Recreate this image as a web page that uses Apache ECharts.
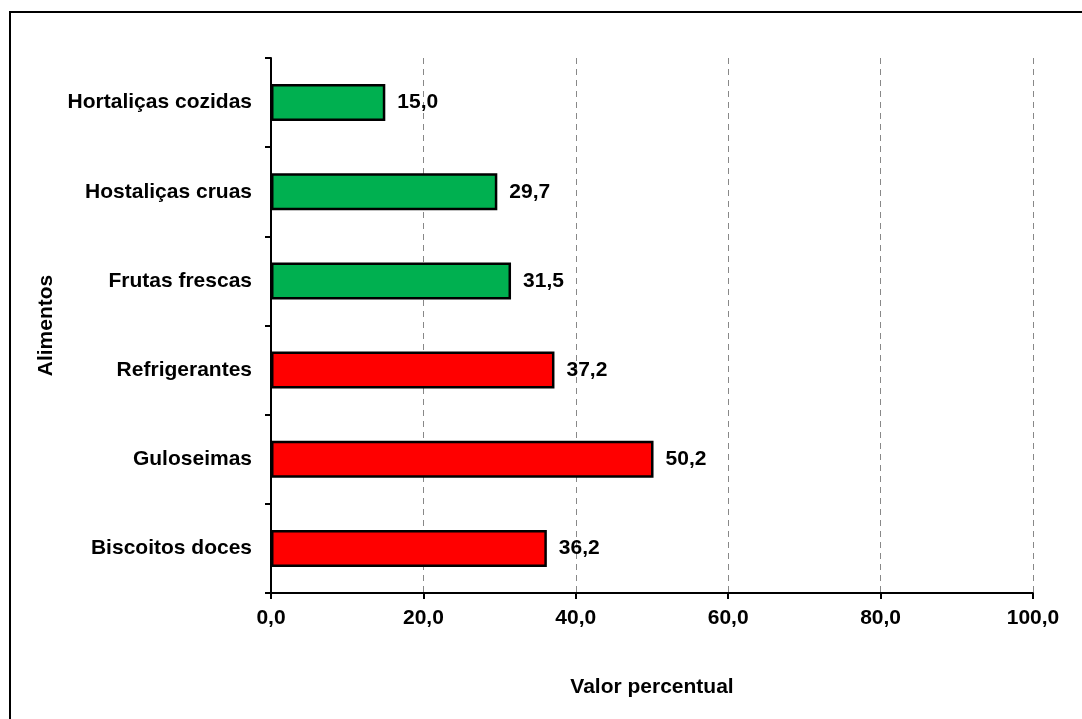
<!DOCTYPE html>
<html>
<head>
<meta charset="utf-8">
<script src="https://cdn.jsdelivr.net/npm/echarts@6/dist/echarts.min.js"></script>
<style>
  html, body { margin: 0; padding: 0; background: #fff; }
  #chart { width: 1082px; height: 719px; }
</style>
</head>
<body>
<div id="chart"></div>
<script>
// Categories from bottom to top (ECharts draws category axis bottom-up)
const categories = ['Biscoitos doces', 'Guloseimas', 'Refrigerantes', 'Frutas frescas', 'Hostaliças cruas', 'Hortaliças cozidas'];
const values = [36.2, 50.2, 37.2, 31.5, 29.7, 15.0];
const groups = ['ruim', 'ruim', 'ruim', 'bom', 'bom', 'bom'];
const xTicks = [0, 20, 40, 60, 80, 100];

const groupColor = { bom: '#00B050', ruim: '#FF0000' };
const fmt = v => v.toFixed(1).replace('.', ',');
const font = '"Liberation Sans", Arial, sans-serif';
const fs = 21;

const chart = echarts.init(document.getElementById('chart'));
chart.setOption({
  animation: false,
  backgroundColor: '#fff',
  graphic: [{
    type: 'rect',
    shape: { x: 10, y: 12, width: 1100, height: 740 },
    style: { fill: null, stroke: '#000', lineWidth: 2 },
    silent: true
  }],
  grid: { left: 271, right: 49, top: 58, bottom: 126 },
  xAxis: {
    type: 'value',
    min: xTicks[0],
    max: xTicks[xTicks.length - 1],
    interval: 20,
    name: 'Valor percentual',
    nameLocation: 'middle',
    nameGap: 84,
    nameTextStyle: { fontFamily: font, fontWeight: 'bold', fontSize: fs, color: '#000' },
    axisLine: { show: true, lineStyle: { color: '#000', width: 2 } },
    axisTick: { show: true, length: 6, lineStyle: { color: '#000', width: 2 } },
    axisLabel: {
      fontFamily: font, fontWeight: 'bold', fontSize: fs, color: '#000', margin: 15,
      formatter: v => fmt(v)
    },
    splitLine: { show: true, lineStyle: { color: '#888', type: [6, 5], width: 1 } }
  },
  yAxis: {
    type: 'category',
    data: categories,
    name: 'Alimentos',
    nameLocation: 'middle',
    nameGap: 212,
    nameRotate: 90,
    nameTextStyle: { fontFamily: font, fontWeight: 'bold', fontSize: fs, color: '#000' },
    axisLine: { show: true, lineStyle: { color: '#000', width: 2 } },
    axisTick: { show: true, length: 6, lineStyle: { color: '#000', width: 2 } },
    axisLabel: { fontFamily: font, fontWeight: 'bold', fontSize: fs, color: '#000', margin: 19 }
  },
  series: [{
    type: 'bar',
    barWidth: 37,
    data: values.map((v, i) => ({
      value: v,
      itemStyle: { color: groupColor[groups[i]] }
    })),
    itemStyle: { borderColor: '#000', borderWidth: 2.5 },
    label: {
      show: true,
      position: 'right',
      distance: 12,
      fontFamily: font, fontWeight: 'bold', fontSize: fs, color: '#000',
      formatter: p => fmt(p.value)
    }
  }]
});
</script>
</body>
</html>
